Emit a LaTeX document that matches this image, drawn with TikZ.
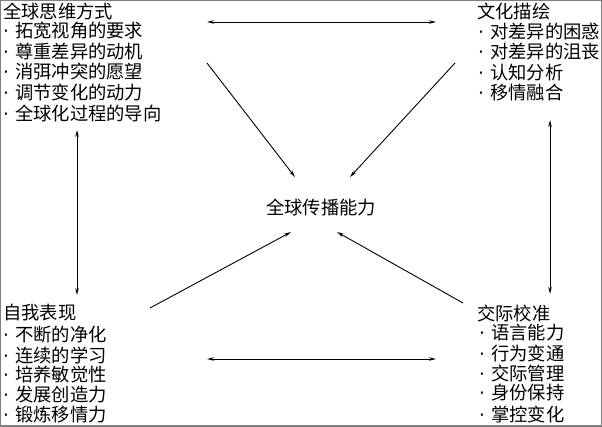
\documentclass[tikz,border=0pt]{standalone}
\usepackage{fontspec}
\setmainfont{Noto Sans CJK SC}
\newfontfamily\latinf{DejaVu Sans}
\usetikzlibrary{arrows.meta}
\tikzset{
  txt/.style={anchor=west,inner sep=0pt,font=\fontsize{18.3pt}{20pt}\selectfont},
  title/.style={txt},
  item/.style={txt},
  link/.style={line width=0.9pt,{Stealth[length=7pt,width=3.5pt]}-{Stealth[length=7pt,width=3.5pt]}},
  into/.style={line width=0.9pt,-{Stealth[length=7pt,width=3.5pt]}},
  frame/.style={draw=gray,line width=1.5pt}
}
\newcommand{\bul}{\makebox[12pt][l]{\latinf ·}}
\begin{document}
\begin{tikzpicture}[x=1pt,y=-1pt]
\useasboundingbox (0,0) rectangle (602,426);
\begin{scope}
\clip (0,0) rectangle (602,426);
% top-left
\node[title] (tl0) at (3,11) {全球思维方式};
\node[item] (tl1) at (3,31) {\bul 拓宽视角的要求};
\node[item] (tl2) at (3,52) {\bul 尊重差异的动机};
\node[item] (tl3) at (3,72) {\bul 消弭冲突的愿望};
\node[item] (tl4) at (3,92) {\bul 调节变化的动力};
\node[item] (tl5) at (3,113) {\bul 全球化过程的导向};
% top-right
\node[title] (tr0) at (477,11) {文化描绘};
\node[item] (tr1) at (478,32) {\bul 对差异的困惑};
\node[item] (tr2) at (478,52) {\bul 对差异的沮丧};
\node[item] (tr3) at (478,73) {\bul 认知分析};
\node[item] (tr4) at (478,93) {\bul 移情融合};
% bottom-left
\node[title] (bl0) at (3,313) {自我表现};
\node[item] (bl1) at (3,335) {\bul 不断的净化};
\node[item] (bl2) at (3,355) {\bul 连续的学习};
\node[item] (bl3) at (3,375) {\bul 培养敏觉性};
\node[item] (bl4) at (3,395) {\bul 发展创造力};
\node[item] (bl5) at (3,415) {\bul 锻炼移情力};
% bottom-right
\node[title] (br0) at (477,313) {交际校准};
\node[item] (br1) at (479,333) {\bul 语言能力};
\node[item] (br2) at (479,353) {\bul 行为变通};
\node[item] (br3) at (479,373) {\bul 交际管理};
\node[item] (br4) at (479,393) {\bul 身份保持};
\node[item] (br5) at (479,414) {\bul 掌控变化};
% centre
\node[txt,anchor=center] (c) at (321,207) {全球传播能力};
% arrow end points
\coordinate (ht1) at (207,22); \coordinate (ht2) at (436,22);
\coordinate (hb1) at (207,359); \coordinate (hb2) at (436,359);
\coordinate (vl1) at (77,130); \coordinate (vl2) at (77,295);
\coordinate (vr1) at (550,120); \coordinate (vr2) at (550,294);
\coordinate (dtl) at (207,63); \coordinate (etl) at (295,177);
\coordinate (dtr) at (455,63); \coordinate (etr) at (350,177);
\coordinate (dbl) at (150,308); \coordinate (ebl) at (291,232);
\coordinate (dbr) at (463,303); \coordinate (ebr) at (337,232);
\draw[link] (ht1) -- (ht2);
\draw[link] (hb1) -- (hb2);
\draw[link] (vl1) -- (vl2);
\draw[link] (vr1) -- (vr2);
\draw[into] (dtl) -- (etl);
\draw[into] (dtr) -- (etr);
\draw[into] (dbl) -- (ebl);
\draw[into] (dbr) -- (ebr);
\end{scope}
\draw[frame] (0,0) rectangle (602,426);
\end{tikzpicture}
\end{document}
